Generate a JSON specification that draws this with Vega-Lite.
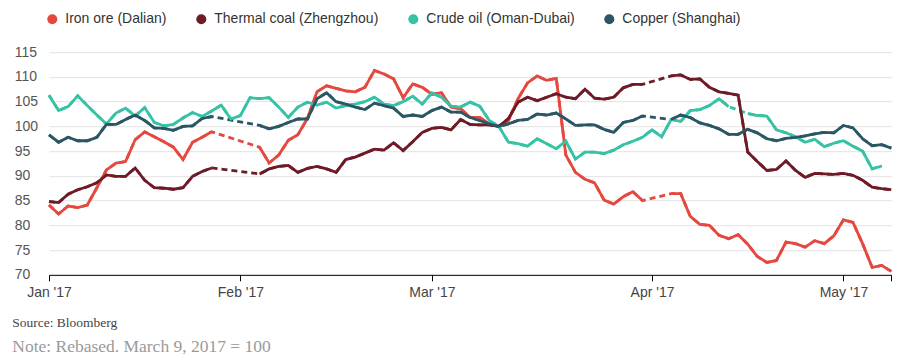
{
"$schema":"https://vega.github.io/schema/vega-lite/v6.json",
"width":842.3,"height":222.6,
"padding":{"left":12,"top":12.2,"right":20,"bottom":5},
"background":"white",
"config":{"view":{"stroke":null},"font":"Liberation Sans"},
"title":{"text":"Source: Bloomberg","subtitle":"Note: Rebased. March 9, 2017 = 100","orient":"bottom","anchor":"start","frame":"bounds","font":"Liberation Serif","fontSize":13.5,"fontWeight":"normal","color":"#444","subtitleFont":"Liberation Serif","subtitleFontSize":17.5,"subtitleColor":"#9a9a9a","offset":16,"subtitlePadding":9,"dx":-2},
"data":{"values":[
{"d":"2017-01-04","s":"Iron ore (Dalian)","v":84.1},{"d":"2017-01-05","s":"Iron ore (Dalian)","v":82.3},{"d":"2017-01-06","s":"Iron ore (Dalian)","v":83.9},{"d":"2017-01-09","s":"Iron ore (Dalian)","v":83.6},{"d":"2017-01-10","s":"Iron ore (Dalian)","v":84.1},{"d":"2017-01-11","s":"Iron ore (Dalian)","v":87.6},{"d":"2017-01-12","s":"Iron ore (Dalian)","v":91.2},{"d":"2017-01-13","s":"Iron ore (Dalian)","v":92.6},{"d":"2017-01-16","s":"Iron ore (Dalian)","v":92.9},{"d":"2017-01-17","s":"Iron ore (Dalian)","v":97.3},{"d":"2017-01-18","s":"Iron ore (Dalian)","v":98.9},{"d":"2017-01-19","s":"Iron ore (Dalian)","v":97.9},{"d":"2017-01-20","s":"Iron ore (Dalian)","v":96.9},{"d":"2017-01-23","s":"Iron ore (Dalian)","v":95.8},{"d":"2017-01-24","s":"Iron ore (Dalian)","v":93.3},{"d":"2017-01-25","s":"Iron ore (Dalian)","v":96.8},{"d":"2017-01-26","s":"Iron ore (Dalian)","v":97.8},{"d":"2017-01-27","s":"Iron ore (Dalian)","v":98.9},{"d":"2017-01-30","s":"Iron ore (Dalian)","v":null},{"d":"2017-01-31","s":"Iron ore (Dalian)","v":null},{"d":"2017-02-01","s":"Iron ore (Dalian)","v":null},{"d":"2017-02-02","s":"Iron ore (Dalian)","v":null},{"d":"2017-02-03","s":"Iron ore (Dalian)","v":95.8},{"d":"2017-02-06","s":"Iron ore (Dalian)","v":92.6},{"d":"2017-02-07","s":"Iron ore (Dalian)","v":94.2},{"d":"2017-02-08","s":"Iron ore (Dalian)","v":97.2},{"d":"2017-02-09","s":"Iron ore (Dalian)","v":98.3},{"d":"2017-02-10","s":"Iron ore (Dalian)","v":101.6},{"d":"2017-02-13","s":"Iron ore (Dalian)","v":107.0},{"d":"2017-02-14","s":"Iron ore (Dalian)","v":108.2},{"d":"2017-02-15","s":"Iron ore (Dalian)","v":107.7},{"d":"2017-02-16","s":"Iron ore (Dalian)","v":107.2},{"d":"2017-02-17","s":"Iron ore (Dalian)","v":107.0},{"d":"2017-02-20","s":"Iron ore (Dalian)","v":107.9},{"d":"2017-02-21","s":"Iron ore (Dalian)","v":111.3},{"d":"2017-02-22","s":"Iron ore (Dalian)","v":110.6},{"d":"2017-02-23","s":"Iron ore (Dalian)","v":109.6},{"d":"2017-02-24","s":"Iron ore (Dalian)","v":105.8},{"d":"2017-02-27","s":"Iron ore (Dalian)","v":108.6},{"d":"2017-02-28","s":"Iron ore (Dalian)","v":107.9},{"d":"2017-03-01","s":"Iron ore (Dalian)","v":106.5},{"d":"2017-03-02","s":"Iron ore (Dalian)","v":106.8},{"d":"2017-03-03","s":"Iron ore (Dalian)","v":103.9},{"d":"2017-03-06","s":"Iron ore (Dalian)","v":103.6},{"d":"2017-03-07","s":"Iron ore (Dalian)","v":101.8},{"d":"2017-03-08","s":"Iron ore (Dalian)","v":101.8},{"d":"2017-03-09","s":"Iron ore (Dalian)","v":100.5},{"d":"2017-03-10","s":"Iron ore (Dalian)","v":100.0},{"d":"2017-03-13","s":"Iron ore (Dalian)","v":101.2},{"d":"2017-03-14","s":"Iron ore (Dalian)","v":105.6},{"d":"2017-03-15","s":"Iron ore (Dalian)","v":108.8},{"d":"2017-03-16","s":"Iron ore (Dalian)","v":110.2},{"d":"2017-03-17","s":"Iron ore (Dalian)","v":109.3},{"d":"2017-03-20","s":"Iron ore (Dalian)","v":109.7},{"d":"2017-03-21","s":"Iron ore (Dalian)","v":94.2},{"d":"2017-03-22","s":"Iron ore (Dalian)","v":90.7},{"d":"2017-03-23","s":"Iron ore (Dalian)","v":89.3},{"d":"2017-03-24","s":"Iron ore (Dalian)","v":88.6},{"d":"2017-03-27","s":"Iron ore (Dalian)","v":85.1},{"d":"2017-03-28","s":"Iron ore (Dalian)","v":84.3},{"d":"2017-03-29","s":"Iron ore (Dalian)","v":85.8},{"d":"2017-03-30","s":"Iron ore (Dalian)","v":86.8},{"d":"2017-03-31","s":"Iron ore (Dalian)","v":85.0},{"d":"2017-04-03","s":"Iron ore (Dalian)","v":null},{"d":"2017-04-04","s":"Iron ore (Dalian)","v":null},{"d":"2017-04-05","s":"Iron ore (Dalian)","v":86.4},{"d":"2017-04-06","s":"Iron ore (Dalian)","v":86.4},{"d":"2017-04-07","s":"Iron ore (Dalian)","v":81.8},{"d":"2017-04-10","s":"Iron ore (Dalian)","v":80.2},{"d":"2017-04-11","s":"Iron ore (Dalian)","v":80.0},{"d":"2017-04-12","s":"Iron ore (Dalian)","v":78.0},{"d":"2017-04-13","s":"Iron ore (Dalian)","v":77.3},{"d":"2017-04-14","s":"Iron ore (Dalian)","v":78.1},{"d":"2017-04-17","s":"Iron ore (Dalian)","v":76.2},{"d":"2017-04-18","s":"Iron ore (Dalian)","v":73.7},{"d":"2017-04-19","s":"Iron ore (Dalian)","v":72.5},{"d":"2017-04-20","s":"Iron ore (Dalian)","v":72.9},{"d":"2017-04-21","s":"Iron ore (Dalian)","v":76.6},{"d":"2017-04-24","s":"Iron ore (Dalian)","v":76.3},{"d":"2017-04-25","s":"Iron ore (Dalian)","v":75.6},{"d":"2017-04-26","s":"Iron ore (Dalian)","v":76.9},{"d":"2017-04-27","s":"Iron ore (Dalian)","v":76.3},{"d":"2017-04-28","s":"Iron ore (Dalian)","v":77.9},{"d":"2017-05-01","s":"Iron ore (Dalian)","v":81.1},{"d":"2017-05-02","s":"Iron ore (Dalian)","v":80.6},{"d":"2017-05-03","s":"Iron ore (Dalian)","v":76.3},{"d":"2017-05-04","s":"Iron ore (Dalian)","v":71.5},{"d":"2017-05-05","s":"Iron ore (Dalian)","v":71.9},{"d":"2017-05-08","s":"Iron ore (Dalian)","v":70.7},
{"d":"2017-01-04","s":"Thermal coal (Zhengzhou)","v":84.8},{"d":"2017-01-05","s":"Thermal coal (Zhengzhou)","v":84.6},{"d":"2017-01-06","s":"Thermal coal (Zhengzhou)","v":86.3},{"d":"2017-01-09","s":"Thermal coal (Zhengzhou)","v":87.2},{"d":"2017-01-10","s":"Thermal coal (Zhengzhou)","v":87.8},{"d":"2017-01-11","s":"Thermal coal (Zhengzhou)","v":88.6},{"d":"2017-01-12","s":"Thermal coal (Zhengzhou)","v":90.2},{"d":"2017-01-13","s":"Thermal coal (Zhengzhou)","v":89.9},{"d":"2017-01-16","s":"Thermal coal (Zhengzhou)","v":89.9},{"d":"2017-01-17","s":"Thermal coal (Zhengzhou)","v":91.6},{"d":"2017-01-18","s":"Thermal coal (Zhengzhou)","v":89.1},{"d":"2017-01-19","s":"Thermal coal (Zhengzhou)","v":87.6},{"d":"2017-01-20","s":"Thermal coal (Zhengzhou)","v":87.5},{"d":"2017-01-23","s":"Thermal coal (Zhengzhou)","v":87.3},{"d":"2017-01-24","s":"Thermal coal (Zhengzhou)","v":87.6},{"d":"2017-01-25","s":"Thermal coal (Zhengzhou)","v":89.9},{"d":"2017-01-26","s":"Thermal coal (Zhengzhou)","v":90.9},{"d":"2017-01-27","s":"Thermal coal (Zhengzhou)","v":91.6},{"d":"2017-01-30","s":"Thermal coal (Zhengzhou)","v":null},{"d":"2017-01-31","s":"Thermal coal (Zhengzhou)","v":null},{"d":"2017-02-01","s":"Thermal coal (Zhengzhou)","v":null},{"d":"2017-02-02","s":"Thermal coal (Zhengzhou)","v":null},{"d":"2017-02-03","s":"Thermal coal (Zhengzhou)","v":90.4},{"d":"2017-02-06","s":"Thermal coal (Zhengzhou)","v":91.4},{"d":"2017-02-07","s":"Thermal coal (Zhengzhou)","v":91.9},{"d":"2017-02-08","s":"Thermal coal (Zhengzhou)","v":92.1},{"d":"2017-02-09","s":"Thermal coal (Zhengzhou)","v":90.7},{"d":"2017-02-10","s":"Thermal coal (Zhengzhou)","v":91.5},{"d":"2017-02-13","s":"Thermal coal (Zhengzhou)","v":91.9},{"d":"2017-02-14","s":"Thermal coal (Zhengzhou)","v":91.4},{"d":"2017-02-15","s":"Thermal coal (Zhengzhou)","v":90.7},{"d":"2017-02-16","s":"Thermal coal (Zhengzhou)","v":93.3},{"d":"2017-02-17","s":"Thermal coal (Zhengzhou)","v":93.8},{"d":"2017-02-20","s":"Thermal coal (Zhengzhou)","v":94.6},{"d":"2017-02-21","s":"Thermal coal (Zhengzhou)","v":95.4},{"d":"2017-02-22","s":"Thermal coal (Zhengzhou)","v":95.2},{"d":"2017-02-23","s":"Thermal coal (Zhengzhou)","v":96.7},{"d":"2017-02-24","s":"Thermal coal (Zhengzhou)","v":95.1},{"d":"2017-02-27","s":"Thermal coal (Zhengzhou)","v":96.9},{"d":"2017-02-28","s":"Thermal coal (Zhengzhou)","v":98.8},{"d":"2017-03-01","s":"Thermal coal (Zhengzhou)","v":99.6},{"d":"2017-03-02","s":"Thermal coal (Zhengzhou)","v":99.8},{"d":"2017-03-03","s":"Thermal coal (Zhengzhou)","v":99.3},{"d":"2017-03-06","s":"Thermal coal (Zhengzhou)","v":101.4},{"d":"2017-03-07","s":"Thermal coal (Zhengzhou)","v":100.4},{"d":"2017-03-08","s":"Thermal coal (Zhengzhou)","v":100.3},{"d":"2017-03-09","s":"Thermal coal (Zhengzhou)","v":100.3},{"d":"2017-03-10","s":"Thermal coal (Zhengzhou)","v":100.0},{"d":"2017-03-13","s":"Thermal coal (Zhengzhou)","v":101.6},{"d":"2017-03-14","s":"Thermal coal (Zhengzhou)","v":104.9},{"d":"2017-03-15","s":"Thermal coal (Zhengzhou)","v":105.9},{"d":"2017-03-16","s":"Thermal coal (Zhengzhou)","v":105.2},{"d":"2017-03-17","s":"Thermal coal (Zhengzhou)","v":105.9},{"d":"2017-03-20","s":"Thermal coal (Zhengzhou)","v":106.6},{"d":"2017-03-21","s":"Thermal coal (Zhengzhou)","v":105.9},{"d":"2017-03-22","s":"Thermal coal (Zhengzhou)","v":105.6},{"d":"2017-03-23","s":"Thermal coal (Zhengzhou)","v":107.5},{"d":"2017-03-24","s":"Thermal coal (Zhengzhou)","v":105.7},{"d":"2017-03-27","s":"Thermal coal (Zhengzhou)","v":105.5},{"d":"2017-03-28","s":"Thermal coal (Zhengzhou)","v":105.9},{"d":"2017-03-29","s":"Thermal coal (Zhengzhou)","v":107.8},{"d":"2017-03-30","s":"Thermal coal (Zhengzhou)","v":108.5},{"d":"2017-03-31","s":"Thermal coal (Zhengzhou)","v":108.5},{"d":"2017-04-03","s":"Thermal coal (Zhengzhou)","v":null},{"d":"2017-04-04","s":"Thermal coal (Zhengzhou)","v":null},{"d":"2017-04-05","s":"Thermal coal (Zhengzhou)","v":110.2},{"d":"2017-04-06","s":"Thermal coal (Zhengzhou)","v":110.4},{"d":"2017-04-07","s":"Thermal coal (Zhengzhou)","v":109.5},{"d":"2017-04-10","s":"Thermal coal (Zhengzhou)","v":109.6},{"d":"2017-04-11","s":"Thermal coal (Zhengzhou)","v":107.9},{"d":"2017-04-12","s":"Thermal coal (Zhengzhou)","v":107.0},{"d":"2017-04-13","s":"Thermal coal (Zhengzhou)","v":106.7},{"d":"2017-04-14","s":"Thermal coal (Zhengzhou)","v":106.3},{"d":"2017-04-17","s":"Thermal coal (Zhengzhou)","v":94.8},{"d":"2017-04-18","s":"Thermal coal (Zhengzhou)","v":92.9},{"d":"2017-04-19","s":"Thermal coal (Zhengzhou)","v":91.1},{"d":"2017-04-20","s":"Thermal coal (Zhengzhou)","v":91.3},{"d":"2017-04-21","s":"Thermal coal (Zhengzhou)","v":93.0},{"d":"2017-04-24","s":"Thermal coal (Zhengzhou)","v":91.1},{"d":"2017-04-25","s":"Thermal coal (Zhengzhou)","v":89.7},{"d":"2017-04-26","s":"Thermal coal (Zhengzhou)","v":90.5},{"d":"2017-04-27","s":"Thermal coal (Zhengzhou)","v":90.4},{"d":"2017-04-28","s":"Thermal coal (Zhengzhou)","v":90.3},{"d":"2017-05-01","s":"Thermal coal (Zhengzhou)","v":90.5},{"d":"2017-05-02","s":"Thermal coal (Zhengzhou)","v":90.1},{"d":"2017-05-03","s":"Thermal coal (Zhengzhou)","v":89.1},{"d":"2017-05-04","s":"Thermal coal (Zhengzhou)","v":87.7},{"d":"2017-05-05","s":"Thermal coal (Zhengzhou)","v":87.4},{"d":"2017-05-08","s":"Thermal coal (Zhengzhou)","v":87.2},
{"d":"2017-01-04","s":"Crude oil (Oman-Dubai)","v":106.3},{"d":"2017-01-05","s":"Crude oil (Oman-Dubai)","v":103.2},{"d":"2017-01-06","s":"Crude oil (Oman-Dubai)","v":104.0},{"d":"2017-01-09","s":"Crude oil (Oman-Dubai)","v":106.2},{"d":"2017-01-10","s":"Crude oil (Oman-Dubai)","v":104.2},{"d":"2017-01-11","s":"Crude oil (Oman-Dubai)","v":102.3},{"d":"2017-01-12","s":"Crude oil (Oman-Dubai)","v":100.5},{"d":"2017-01-13","s":"Crude oil (Oman-Dubai)","v":102.7},{"d":"2017-01-16","s":"Crude oil (Oman-Dubai)","v":103.7},{"d":"2017-01-17","s":"Crude oil (Oman-Dubai)","v":102.1},{"d":"2017-01-18","s":"Crude oil (Oman-Dubai)","v":103.8},{"d":"2017-01-19","s":"Crude oil (Oman-Dubai)","v":100.8},{"d":"2017-01-20","s":"Crude oil (Oman-Dubai)","v":100.1},{"d":"2017-01-23","s":"Crude oil (Oman-Dubai)","v":100.4},{"d":"2017-01-24","s":"Crude oil (Oman-Dubai)","v":101.7},{"d":"2017-01-25","s":"Crude oil (Oman-Dubai)","v":102.8},{"d":"2017-01-26","s":"Crude oil (Oman-Dubai)","v":102.0},{"d":"2017-01-27","s":"Crude oil (Oman-Dubai)","v":103.1},{"d":"2017-01-30","s":"Crude oil (Oman-Dubai)","v":104.3},{"d":"2017-01-31","s":"Crude oil (Oman-Dubai)","v":101.5},{"d":"2017-02-01","s":"Crude oil (Oman-Dubai)","v":102.2},{"d":"2017-02-02","s":"Crude oil (Oman-Dubai)","v":105.8},{"d":"2017-02-03","s":"Crude oil (Oman-Dubai)","v":105.6},{"d":"2017-02-06","s":"Crude oil (Oman-Dubai)","v":105.8},{"d":"2017-02-07","s":"Crude oil (Oman-Dubai)","v":103.9},{"d":"2017-02-08","s":"Crude oil (Oman-Dubai)","v":101.8},{"d":"2017-02-09","s":"Crude oil (Oman-Dubai)","v":103.9},{"d":"2017-02-10","s":"Crude oil (Oman-Dubai)","v":104.9},{"d":"2017-02-13","s":"Crude oil (Oman-Dubai)","v":104.3},{"d":"2017-02-14","s":"Crude oil (Oman-Dubai)","v":104.9},{"d":"2017-02-15","s":"Crude oil (Oman-Dubai)","v":103.7},{"d":"2017-02-16","s":"Crude oil (Oman-Dubai)","v":104.2},{"d":"2017-02-17","s":"Crude oil (Oman-Dubai)","v":104.5},{"d":"2017-02-20","s":"Crude oil (Oman-Dubai)","v":105.0},{"d":"2017-02-21","s":"Crude oil (Oman-Dubai)","v":105.9},{"d":"2017-02-22","s":"Crude oil (Oman-Dubai)","v":104.5},{"d":"2017-02-23","s":"Crude oil (Oman-Dubai)","v":104.2},{"d":"2017-02-24","s":"Crude oil (Oman-Dubai)","v":105.0},{"d":"2017-02-27","s":"Crude oil (Oman-Dubai)","v":106.1},{"d":"2017-02-28","s":"Crude oil (Oman-Dubai)","v":104.5},{"d":"2017-03-01","s":"Crude oil (Oman-Dubai)","v":106.8},{"d":"2017-03-02","s":"Crude oil (Oman-Dubai)","v":105.9},{"d":"2017-03-03","s":"Crude oil (Oman-Dubai)","v":104.1},{"d":"2017-03-06","s":"Crude oil (Oman-Dubai)","v":103.9},{"d":"2017-03-07","s":"Crude oil (Oman-Dubai)","v":104.9},{"d":"2017-03-08","s":"Crude oil (Oman-Dubai)","v":104.1},{"d":"2017-03-09","s":"Crude oil (Oman-Dubai)","v":101.2},{"d":"2017-03-10","s":"Crude oil (Oman-Dubai)","v":100.0},{"d":"2017-03-13","s":"Crude oil (Oman-Dubai)","v":96.8},{"d":"2017-03-14","s":"Crude oil (Oman-Dubai)","v":96.5},{"d":"2017-03-15","s":"Crude oil (Oman-Dubai)","v":96.0},{"d":"2017-03-16","s":"Crude oil (Oman-Dubai)","v":97.5},{"d":"2017-03-17","s":"Crude oil (Oman-Dubai)","v":96.5},{"d":"2017-03-20","s":"Crude oil (Oman-Dubai)","v":95.5},{"d":"2017-03-21","s":"Crude oil (Oman-Dubai)","v":97.0},{"d":"2017-03-22","s":"Crude oil (Oman-Dubai)","v":93.4},{"d":"2017-03-23","s":"Crude oil (Oman-Dubai)","v":94.8},{"d":"2017-03-24","s":"Crude oil (Oman-Dubai)","v":94.8},{"d":"2017-03-27","s":"Crude oil (Oman-Dubai)","v":94.5},{"d":"2017-03-28","s":"Crude oil (Oman-Dubai)","v":95.2},{"d":"2017-03-29","s":"Crude oil (Oman-Dubai)","v":96.3},{"d":"2017-03-30","s":"Crude oil (Oman-Dubai)","v":97.0},{"d":"2017-03-31","s":"Crude oil (Oman-Dubai)","v":97.8},{"d":"2017-04-03","s":"Crude oil (Oman-Dubai)","v":99.3},{"d":"2017-04-04","s":"Crude oil (Oman-Dubai)","v":97.9},{"d":"2017-04-05","s":"Crude oil (Oman-Dubai)","v":101.4},{"d":"2017-04-06","s":"Crude oil (Oman-Dubai)","v":101.0},{"d":"2017-04-07","s":"Crude oil (Oman-Dubai)","v":103.2},{"d":"2017-04-10","s":"Crude oil (Oman-Dubai)","v":103.4},{"d":"2017-04-11","s":"Crude oil (Oman-Dubai)","v":104.2},{"d":"2017-04-12","s":"Crude oil (Oman-Dubai)","v":105.6},{"d":"2017-04-13","s":"Crude oil (Oman-Dubai)","v":104.0},{"d":"2017-04-14","s":"Crude oil (Oman-Dubai)","v":null},{"d":"2017-04-17","s":"Crude oil (Oman-Dubai)","v":102.6},{"d":"2017-04-18","s":"Crude oil (Oman-Dubai)","v":102.2},{"d":"2017-04-19","s":"Crude oil (Oman-Dubai)","v":102.1},{"d":"2017-04-20","s":"Crude oil (Oman-Dubai)","v":99.3},{"d":"2017-04-21","s":"Crude oil (Oman-Dubai)","v":98.7},{"d":"2017-04-24","s":"Crude oil (Oman-Dubai)","v":97.9},{"d":"2017-04-25","s":"Crude oil (Oman-Dubai)","v":96.8},{"d":"2017-04-26","s":"Crude oil (Oman-Dubai)","v":97.4},{"d":"2017-04-27","s":"Crude oil (Oman-Dubai)","v":95.9},{"d":"2017-04-28","s":"Crude oil (Oman-Dubai)","v":96.6},{"d":"2017-05-01","s":"Crude oil (Oman-Dubai)","v":97.1},{"d":"2017-05-02","s":"Crude oil (Oman-Dubai)","v":96.0},{"d":"2017-05-03","s":"Crude oil (Oman-Dubai)","v":95.0},{"d":"2017-05-04","s":"Crude oil (Oman-Dubai)","v":91.4},{"d":"2017-05-05","s":"Crude oil (Oman-Dubai)","v":92.0},
{"d":"2017-01-04","s":"Copper (Shanghai)","v":98.3},{"d":"2017-01-05","s":"Copper (Shanghai)","v":96.8},{"d":"2017-01-06","s":"Copper (Shanghai)","v":97.8},{"d":"2017-01-09","s":"Copper (Shanghai)","v":97.1},{"d":"2017-01-10","s":"Copper (Shanghai)","v":97.1},{"d":"2017-01-11","s":"Copper (Shanghai)","v":97.8},{"d":"2017-01-12","s":"Copper (Shanghai)","v":100.4},{"d":"2017-01-13","s":"Copper (Shanghai)","v":100.4},{"d":"2017-01-16","s":"Copper (Shanghai)","v":101.4},{"d":"2017-01-17","s":"Copper (Shanghai)","v":102.3},{"d":"2017-01-18","s":"Copper (Shanghai)","v":101.2},{"d":"2017-01-19","s":"Copper (Shanghai)","v":99.7},{"d":"2017-01-20","s":"Copper (Shanghai)","v":99.6},{"d":"2017-01-23","s":"Copper (Shanghai)","v":99.2},{"d":"2017-01-24","s":"Copper (Shanghai)","v":100.0},{"d":"2017-01-25","s":"Copper (Shanghai)","v":100.1},{"d":"2017-01-26","s":"Copper (Shanghai)","v":101.6},{"d":"2017-01-27","s":"Copper (Shanghai)","v":102.0},{"d":"2017-01-30","s":"Copper (Shanghai)","v":null},{"d":"2017-01-31","s":"Copper (Shanghai)","v":null},{"d":"2017-02-01","s":"Copper (Shanghai)","v":null},{"d":"2017-02-02","s":"Copper (Shanghai)","v":null},{"d":"2017-02-03","s":"Copper (Shanghai)","v":100.2},{"d":"2017-02-06","s":"Copper (Shanghai)","v":99.5},{"d":"2017-02-07","s":"Copper (Shanghai)","v":100.0},{"d":"2017-02-08","s":"Copper (Shanghai)","v":100.8},{"d":"2017-02-09","s":"Copper (Shanghai)","v":101.5},{"d":"2017-02-10","s":"Copper (Shanghai)","v":101.5},{"d":"2017-02-13","s":"Copper (Shanghai)","v":105.6},{"d":"2017-02-14","s":"Copper (Shanghai)","v":106.8},{"d":"2017-02-15","s":"Copper (Shanghai)","v":105.0},{"d":"2017-02-16","s":"Copper (Shanghai)","v":104.5},{"d":"2017-02-17","s":"Copper (Shanghai)","v":103.9},{"d":"2017-02-20","s":"Copper (Shanghai)","v":103.4},{"d":"2017-02-21","s":"Copper (Shanghai)","v":104.7},{"d":"2017-02-22","s":"Copper (Shanghai)","v":104.2},{"d":"2017-02-23","s":"Copper (Shanghai)","v":103.7},{"d":"2017-02-24","s":"Copper (Shanghai)","v":102.0},{"d":"2017-02-27","s":"Copper (Shanghai)","v":102.3},{"d":"2017-02-28","s":"Copper (Shanghai)","v":102.0},{"d":"2017-03-01","s":"Copper (Shanghai)","v":103.2},{"d":"2017-03-02","s":"Copper (Shanghai)","v":103.9},{"d":"2017-03-03","s":"Copper (Shanghai)","v":102.9},{"d":"2017-03-06","s":"Copper (Shanghai)","v":102.9},{"d":"2017-03-07","s":"Copper (Shanghai)","v":101.8},{"d":"2017-03-08","s":"Copper (Shanghai)","v":101.2},{"d":"2017-03-09","s":"Copper (Shanghai)","v":100.5},{"d":"2017-03-10","s":"Copper (Shanghai)","v":100.0},{"d":"2017-03-13","s":"Copper (Shanghai)","v":100.5},{"d":"2017-03-14","s":"Copper (Shanghai)","v":101.2},{"d":"2017-03-15","s":"Copper (Shanghai)","v":101.4},{"d":"2017-03-16","s":"Copper (Shanghai)","v":102.5},{"d":"2017-03-17","s":"Copper (Shanghai)","v":102.3},{"d":"2017-03-20","s":"Copper (Shanghai)","v":102.7},{"d":"2017-03-21","s":"Copper (Shanghai)","v":101.5},{"d":"2017-03-22","s":"Copper (Shanghai)","v":100.2},{"d":"2017-03-23","s":"Copper (Shanghai)","v":100.3},{"d":"2017-03-24","s":"Copper (Shanghai)","v":100.3},{"d":"2017-03-27","s":"Copper (Shanghai)","v":99.4},{"d":"2017-03-28","s":"Copper (Shanghai)","v":98.8},{"d":"2017-03-29","s":"Copper (Shanghai)","v":100.8},{"d":"2017-03-30","s":"Copper (Shanghai)","v":101.2},{"d":"2017-03-31","s":"Copper (Shanghai)","v":102.1},{"d":"2017-04-03","s":"Copper (Shanghai)","v":null},{"d":"2017-04-04","s":"Copper (Shanghai)","v":null},{"d":"2017-04-05","s":"Copper (Shanghai)","v":101.4},{"d":"2017-04-06","s":"Copper (Shanghai)","v":102.3},{"d":"2017-04-07","s":"Copper (Shanghai)","v":101.8},{"d":"2017-04-10","s":"Copper (Shanghai)","v":100.7},{"d":"2017-04-11","s":"Copper (Shanghai)","v":100.2},{"d":"2017-04-12","s":"Copper (Shanghai)","v":99.5},{"d":"2017-04-13","s":"Copper (Shanghai)","v":98.4},{"d":"2017-04-14","s":"Copper (Shanghai)","v":98.4},{"d":"2017-04-17","s":"Copper (Shanghai)","v":99.4},{"d":"2017-04-18","s":"Copper (Shanghai)","v":98.7},{"d":"2017-04-19","s":"Copper (Shanghai)","v":97.5},{"d":"2017-04-20","s":"Copper (Shanghai)","v":97.1},{"d":"2017-04-21","s":"Copper (Shanghai)","v":97.6},{"d":"2017-04-24","s":"Copper (Shanghai)","v":97.8},{"d":"2017-04-25","s":"Copper (Shanghai)","v":98.1},{"d":"2017-04-26","s":"Copper (Shanghai)","v":98.5},{"d":"2017-04-27","s":"Copper (Shanghai)","v":98.8},{"d":"2017-04-28","s":"Copper (Shanghai)","v":98.7},{"d":"2017-05-01","s":"Copper (Shanghai)","v":100.2},{"d":"2017-05-02","s":"Copper (Shanghai)","v":99.7},{"d":"2017-05-03","s":"Copper (Shanghai)","v":97.5},{"d":"2017-05-04","s":"Copper (Shanghai)","v":96.1},{"d":"2017-05-05","s":"Copper (Shanghai)","v":96.3},{"d":"2017-05-08","s":"Copper (Shanghai)","v":95.6}
]},
"encoding":{
"x":{"field":"d","type":"ordinal","sort":"ascending","scale":{"type":"point","padding":0},
"axis":{"title":null,"values":["2017-01-04","2017-02-01","2017-03-01","2017-04-03","2017-05-01","2017-05-08"],"labelExpr":"datum.value == '2017-05-08' ? '' : utcFormat(toDate(datum.value), \"%b '%y\")","grid":false,"domainColor":"#000","domainWidth":1,"tickColor":"#000","tickSize":6,"labelAngle":0,"labelFont":"Liberation Sans","labelFontSize":14,"labelColor":"#444","labelPadding":5,"zindex":1}},
"y":{"field":"v","type":"quantitative","scale":{"domain":[70,115],"nice":false,"zero":false},
"axis":{"title":null,"values":[70,75,80,85,90,95,100,105,110,115],"domain":false,"ticks":false,"tickSize":0,"labelAlign":"left","labelPadding":34.7,"gridColor":"#e3e3e3","gridWidth":1,"labelFont":"Liberation Sans","labelFontSize":14,"labelColor":"#555"}},
"color":{"field":"s","type":"nominal","scale":{"domain":["Iron ore (Dalian)","Thermal coal (Zhengzhou)","Crude oil (Oman-Dubai)","Copper (Shanghai)"],"range":["#e5483f","#6e1b27","#35c2a5","#2b5765"]},
"legend":{"orient":"none","legendX":-3.7,"legendY":-40,"direction":"horizontal","title":null,"symbolType":"circle","symbolSize":100,"symbolStrokeWidth":0,"symbolDash":[],"labelFont":"Liberation Sans","labelFontSize":14,"labelColor":"#333","labelOffset":6,"labelLimit":300,"columnPadding":27,"padding":0,"encode":{"symbols":{"update":{"fill":{"scale":"color","field":"value"},"opacity":{"value":1}}}}}}
},
"layer":[
{"mark":{"type":"line","strokeWidth":2.8,"strokeDash":[6,4],"invalid":"filter"}},
{"mark":{"type":"line","strokeWidth":2.8,"invalid":"break-paths-show-domains"}}
]
}
